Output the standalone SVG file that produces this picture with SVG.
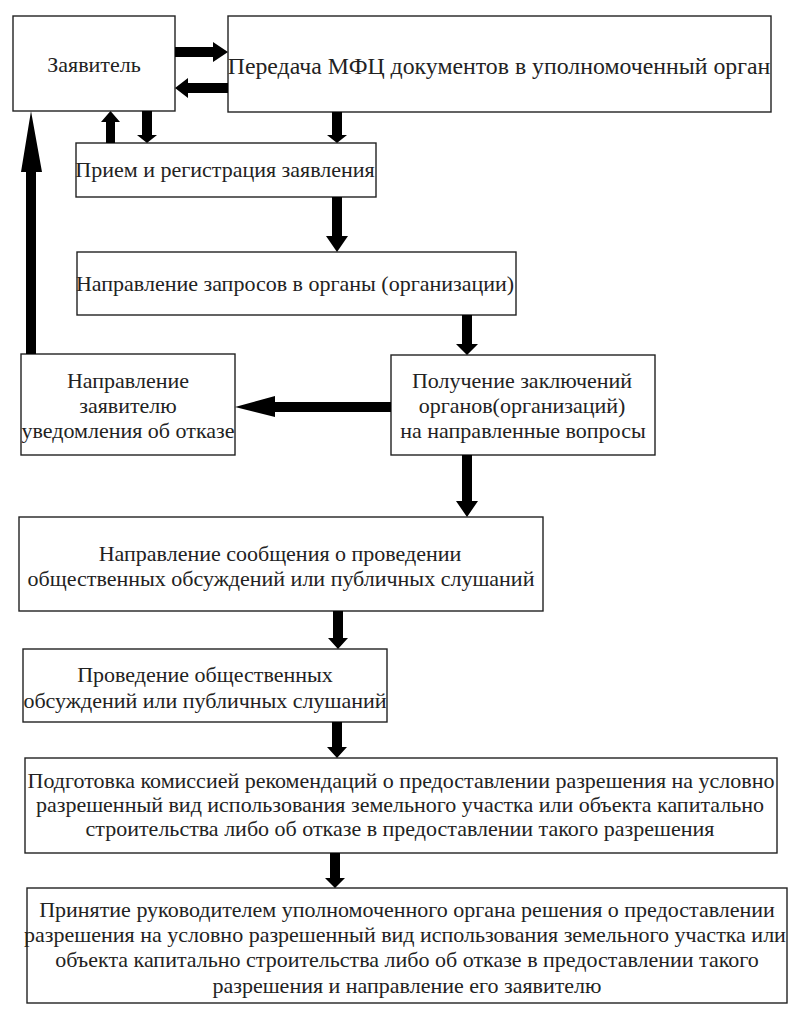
<svg xmlns="http://www.w3.org/2000/svg" width="800" height="1018" viewBox="0 0 800 1018">
<style>
.box{fill:#fff;stroke:#222;stroke-width:1.4}
.t{font-family:"Liberation Serif","Times New Roman",serif;font-size:22px;fill:#222;text-anchor:middle}
.big{font-size:23.8px}
.arr{fill:#000}
</style>
<rect width="800" height="1018" fill="#fff"/>
<g id="n1"><rect class="box" x="13" y="16" width="162" height="95"/><text class="t" x="94" y="72">Заявитель</text></g>
<g id="n2"><rect class="box" x="228" y="16" width="543" height="96"/><text class="t big" x="499" y="74">Передача МФЦ документов в уполномоченный орган</text></g>
<g id="n3"><rect class="box" x="76" y="143" width="300" height="54"/><text class="t" x="225" y="177">Прием и регистрация заявления</text></g>
<g id="n4"><rect class="box" x="77" y="252" width="439" height="63"/><text class="t" x="295" y="291">Направление запросов в органы (организации)</text></g>
<g id="n5"><rect class="box" x="391" y="355" width="264" height="100"/><text class="t" x="522" y="388">Получение заключений</text><text class="t" x="522" y="413">органов(организаций)</text><text class="t" x="523" y="438">на направленные вопросы</text></g>
<g id="n6"><rect class="box" x="21" y="354" width="214" height="101"/><text class="t" x="128" y="388">Направление</text><text class="t" x="128" y="413">заявителю</text><text class="t" x="128" y="438">уведомления об отказе</text></g>
<g id="n7"><rect class="box" x="19" y="517" width="524" height="94"/><text class="t" x="280" y="561">Направление сообщения о проведении</text><text class="t" x="281" y="586">общественных обсуждений или публичных слушаний</text></g>
<g id="n8"><rect class="box" x="23" y="649" width="364" height="73"/><text class="t" x="205" y="682">Проведение общественных</text><text class="t" x="205" y="708">обсуждений или публичных слушаний</text></g>
<g id="n9"><rect class="box" x="25" y="758" width="752" height="95"/><text class="t" x="401" y="788">Подготовка комиссией рекомендаций о предоставлении разрешения на условно</text><text class="t" x="400" y="812">разрешенный вид использования земельного участка или объекта капитально</text><text class="t" x="400" y="836">строительства либо об отказе в предоставлении такого разрешения</text></g>
<g id="n10"><rect class="box" x="27" y="888" width="760" height="115"/><text class="t" x="407" y="917">Принятие руководителем уполномоченного органа решения о предоставлении</text><text class="t" x="405" y="942">разрешения на условно разрешенный вид использования земельного участка или</text><text class="t" x="407" y="967">объекта капитально строительства либо об отказе в предоставлении такого</text><text class="t" x="407" y="993">разрешения и направление его заявителю</text></g>
<g id="connectors">
<polygon class="arr" points="175,47 213,47 213,42 228,52 213,62 213,57 175,57"/>
<polygon class="arr" points="228,83 188,83 188,78 175,88 188,98 188,93 228,93"/>
<polygon class="arr" points="106,143 106,122 101,122 110.5,111 120,122 115,122 115,143"/>
<polygon class="arr" points="142,111 152,111 152,135 157,135 147,143 137,135 142,135"/>
<polygon class="arr" points="332,112 342,112 342,135 347,135 337,143 327,135 332,135"/>
<polygon class="arr" points="332,197 342,197 342,236 348,236 337,252 326,236 332,236"/>
<polygon class="arr" points="462,315 472,315 472,344 478,344 467,355 456,344 462,344"/>
<polygon class="arr" points="391,402 275,402 275,396 235,407 275,417 275,412 391,412"/>
<polygon class="arr" points="26,354 26,172 21,172 31,111 42,172 36,172 36,354"/>
<polygon class="arr" points="462,455 472,455 472,501 478,501 467,517 456,501 462,501"/>
<polygon class="arr" points="333,611 343,611 343,638 348,638 338,649 328,638 333,638"/>
<polygon class="arr" points="332,722 342,722 342,747 347,747 337,758 327,747 332,747"/>
<polygon class="arr" points="330,853 340,853 340,878 345,878 335,888 325,878 330,878"/>
</g>
</svg>
